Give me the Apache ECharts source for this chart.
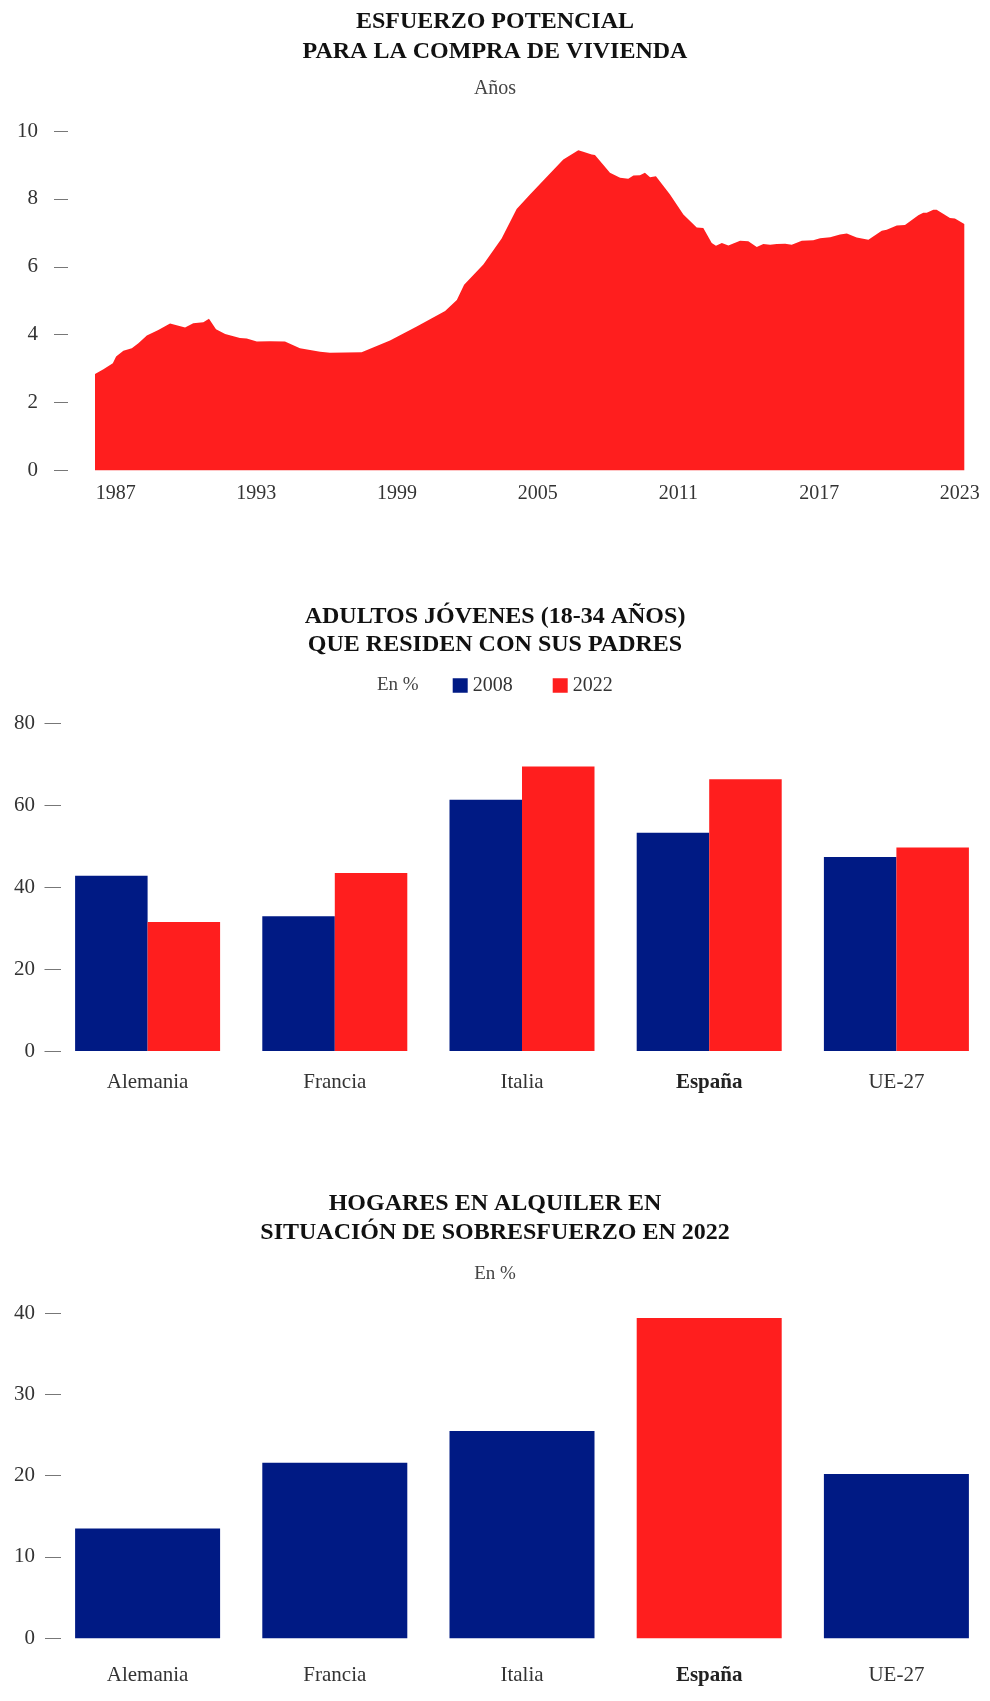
<!DOCTYPE html>
<html>
<head>
<meta charset="utf-8">
<script src="https://cdn.jsdelivr.net/npm/echarts@6/dist/echarts.min.js"></script>
<style>
html,body{margin:0;padding:0;background:#fff;}
#c{width:990px;height:1701px;}
</style>
</head>
<body>
<div id="c"></div>
<script>
// ---- Chart 1: Esfuerzo potencial (años) ----
const effortYears = [1986.12,1986.48,1986.88,1987.02,1987.33,1987.69,1987.97,1988.33,1988.82,1989.32,
  1989.96,1990.31,1990.74,1990.98,1991.28,1991.67,1992.30,1992.59,1993.02,1993.58,
  1994.22,1994.86,1995.72,1996.14,1997.49,1998.70,1999.84,2001.05,2001.55,2001.86,
  2002.68,2003.46,2004.10,2004.67,2005.45,2006.09,2006.73,2006.94,2007.30,2007.44,
  2008.08,2008.51,2008.86,2009.08,2009.36,2009.57,2009.79,2010.04,2010.64,2011.21,
  2011.78,2012.06,2012.42,2012.60,2012.85,2013.13,2013.63,2013.98,2014.34,2014.62,
  2014.91,2015.19,2015.55,2015.83,2016.26,2016.75,2017.04,2017.47,2017.89,2018.18,
  2018.60,2019.10,2019.67,2019.88,2020.31,2020.66,2021.23,2021.44,2021.59,2021.87,
  2022.01,2022.58,2022.79,2023.19];
const effortValues = [2.84,2.98,3.16,3.36,3.53,3.60,3.75,3.98,4.14,4.33,
  4.21,4.34,4.37,4.47,4.16,4.02,3.90,3.89,3.80,3.81,
  3.80,3.60,3.50,3.47,3.48,3.83,4.24,4.70,5.02,5.47,
  6.07,6.83,7.70,8.13,8.70,9.16,9.43,9.39,9.31,9.29,
  8.77,8.62,8.59,8.69,8.70,8.77,8.64,8.67,8.13,7.54,
  7.16,7.14,6.70,6.62,6.70,6.63,6.77,6.75,6.58,6.67,
  6.65,6.67,6.68,6.65,6.77,6.78,6.84,6.87,6.95,6.98,
  6.86,6.80,7.06,7.09,7.22,7.23,7.52,7.59,7.59,7.68,
  7.68,7.44,7.42,7.26];
const effortTickYears = [1987,1993,1999,2005,2011,2017,2023];

// ---- Chart 2: Adultos jóvenes que residen con sus padres (%) ----
const countries = ['Alemania','Francia','Italia','España','UE-27'];
const living2008 = [42.8, 32.9, 61.4, 53.3, 47.4];
const living2022 = [31.5, 43.5, 69.5, 66.4, 49.7];

// ---- Chart 3: Hogares en alquiler en sobresfuerzo 2022 (%) ----
const overburden2022 = [13.5, 21.6, 25.5, 39.4, 20.2];
const highlightCountry = 'España';

const RED = '#ff1e1e';
const BLUE = '#001a84';
const FONT = 'Liberation Serif';
const TXT = '#333';

const catLabel = {
  fontFamily: FONT, fontSize: 21, color: TXT,
  formatter: v => v === highlightCountry ? '{b|' + v + '}' : v,
  rich: { b: { fontFamily: FONT, fontSize: 21, fontWeight: 'bold', color: '#222' } }
};
function yAx(grid, max, interval, offset, tickLen, margin) {
  return {
    gridIndex: grid, type: 'value', min: 0, max: max, interval: interval, offset: offset,
    axisLine: { show: false },
    axisTick: { show: true, length: tickLen, lineStyle: { color: '#777', width: 1 } },
    splitLine: { show: false },
    axisLabel: { margin: margin, fontFamily: FONT, fontSize: 21, color: TXT }
  };
}

const chart = echarts.init(document.getElementById('c'), null, { renderer: 'canvas' });
chart.setOption({
  backgroundColor: '#fff',
  animation: false,
  title: [
    { text: 'ESFUERZO POTENCIAL\nPARA LA COMPRA DE VIVIENDA', left: 'center', top: 7.5, padding: 0,
      textStyle: { fontFamily: FONT, fontWeight: 'bold', fontSize: 24, lineHeight: 29.5, color: '#111' } },
    { text: 'Años', left: 'center', top: 79, padding: 0,
      textStyle: { fontFamily: FONT, fontWeight: 'normal', fontSize: 20, color: '#444' } },
    { text: 'ADULTOS JÓVENES (18-34 AÑOS)\nQUE RESIDEN CON SUS PADRES', left: 'center', top: 602.5, padding: 0,
      textStyle: { fontFamily: FONT, fontWeight: 'bold', fontSize: 24, lineHeight: 28.5, color: '#111' } },
    { text: 'En %', left: 377, top: 675.5, padding: 0,
      textStyle: { fontFamily: FONT, fontWeight: 'normal', fontSize: 19, color: '#444' } },
    { text: 'HOGARES EN ALQUILER EN\nSITUACIÓN DE SOBRESFUERZO EN 2022', left: 'center', top: 1189.5, padding: 0,
      textStyle: { fontFamily: FONT, fontWeight: 'bold', fontSize: 24, lineHeight: 29, color: '#111' } },
    { text: 'En %', left: 'center', top: 1265, padding: 0,
      textStyle: { fontFamily: FONT, fontWeight: 'normal', fontSize: 19, color: '#444' } }
  ],
  legend: {
    data: ['2008', '2022'], left: 452.7, top: 675.5, padding: 0,
    itemWidth: 15, itemHeight: 14.5, itemGap: 40, icon: 'rect', selectedMode: false,
    textStyle: { fontFamily: FONT, fontSize: 20, color: TXT }
  },
  grid: [
    { left: 95, top: 131, width: 869.3, height: 339.5 },
    { left: 54, top: 723.5, width: 937.5, height: 327.5 },
    { left: 54, top: 1313, width: 937.5, height: 325.3 }
  ],
  xAxis: [
    { gridIndex: 0, type: 'value', min: 'dataMin', max: 'dataMax',
      axisLine: { show: false }, axisTick: { show: false }, splitLine: { show: false },
      axisLabel: { customValues: effortTickYears, margin: 13, fontFamily: FONT, fontSize: 20, color: TXT,
        formatter: v => String(v) } },
    { gridIndex: 1, type: 'category', data: countries,
      axisLine: { show: false }, axisTick: { show: false },
      axisLabel: Object.assign({ margin: 21 }, catLabel) },
    { gridIndex: 2, type: 'category', data: countries,
      axisLine: { show: false }, axisTick: { show: false },
      axisLabel: Object.assign({ margin: 27 }, catLabel) }
  ],
  yAxis: [
    yAx(0, 10, 2, 27, 14, 30),
    yAx(1, 80, 20, -7, 16.5, 26),
    yAx(2, 40, 10, -7, 16, 26)
  ],
  series: [
    { type: 'line', name: 'Esfuerzo', xAxisIndex: 0, yAxisIndex: 0,
      data: effortYears.map((y, i) => [y, effortValues[i]]),
      showSymbol: false, symbol: 'none', smooth: false,
      lineStyle: { width: 0, opacity: 0 },
      itemStyle: { color: RED },
      areaStyle: { color: RED, opacity: 1 } },
    { type: 'bar', name: '2008', xAxisIndex: 1, yAxisIndex: 1, data: living2008,
      barWidth: 72.5, barGap: '0%', itemStyle: { color: BLUE } },
    { type: 'bar', name: '2022', xAxisIndex: 1, yAxisIndex: 1, data: living2022,
      barWidth: 72.5, barGap: '0%', itemStyle: { color: RED } },
    { type: 'bar', name: 'Sobresfuerzo', xAxisIndex: 2, yAxisIndex: 2,
      data: overburden2022.map((v, i) => ({ value: v, itemStyle: { color: countries[i] === highlightCountry ? RED : BLUE } })),
      barWidth: 145 }
  ]
});
</script>
</body>
</html>
